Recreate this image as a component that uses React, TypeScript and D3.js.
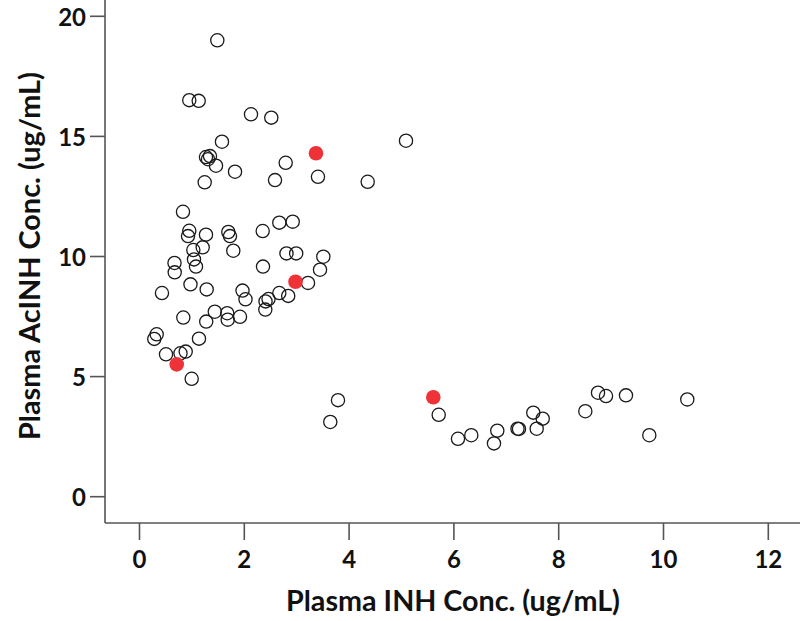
import React from "react";
import * as d3 from "d3";

// Open circles (plasma INH vs AcINH, ug/mL)
const inhOpen: number[] = [
  1.485, 0.95, 1.13, 2.128, 2.515, 1.574, 1.269, 1.307, 1.345, 1.46,
  1.823, 2.79, 3.406, 2.586, 1.244, 4.355, 5.086, 0.83, 0.95, 0.926,
  1.269, 1.695, 1.727, 2.351, 2.668, 2.924, 1.027, 1.206, 1.79, 1.04,
  1.078, 0.668, 0.672, 2.805, 2.99, 3.508, 3.445, 2.357, 3.216, 0.429,
  0.973, 1.282, 1.966, 2.023, 2.668, 2.838, 2.462, 2.405, 2.401, 0.836,
  1.273, 1.437, 1.674, 1.683, 1.918, 1.135, 0.328, 0.282, 0.506, 0.782,
  0.882, 0.996, 3.788, 3.641, 5.71, 6.078, 6.332, 6.828, 6.765, 7.214,
  7.242, 7.515, 7.695, 7.58, 8.508, 8.75, 8.903, 9.284, 10.454, 9.729,
];
const acinhOpen: number[] = [
  19.0, 16.51, 16.48, 15.92, 15.78, 14.78, 14.14, 14.05, 14.18, 13.78,
  13.53, 13.9, 13.32, 13.18, 13.09, 13.11, 14.82, 11.86, 11.07, 10.85,
  10.91, 11.02, 10.85, 11.06, 11.41, 11.45, 10.27, 10.38, 10.24, 9.88,
  9.58, 9.73, 9.34, 10.13, 10.13, 9.99, 9.45, 9.58, 8.9, 8.48,
  8.84, 8.63, 8.58, 8.22, 8.48, 8.36, 8.23, 8.13, 7.79, 7.46,
  7.29, 7.7, 7.64, 7.37, 7.49, 6.58, 6.76, 6.57, 5.93, 5.97,
  6.04, 4.91, 4.02, 3.11, 3.41, 2.41, 2.56, 2.75, 2.22, 2.83,
  2.82, 3.5, 3.25, 2.83, 3.56, 4.33, 4.19, 4.22, 4.05, 2.56,
];

// Highlighted (red filled) points
const inhRed: number[] = [3.368, 2.977, 0.71, 5.607];
const acinhRed: number[] = [14.3, 8.95, 5.51, 4.14];

const xTicks: number[] = [0, 2, 4, 6, 8, 10, 12];
const yTicks: number[] = [0, 5, 10, 15, 20];

const xTitle = "Plasma INH Conc. (ug/mL)";
const yTitle = "Plasma AcINH Conc. (ug/mL)";

const W = 800;
const H = 621;
const FONT = "Lato, 'Liberation Sans', sans-serif";

export default function App() {
  const x = d3.scaleLinear().domain([0, 12]).range([139.5, 768.3]);
  const y = d3.scaleLinear().domain([0, 20]).range([496.7, 16.3]);

  const axisLeft = 105;
  const axisBottom = 523;
  const axisColor = "#555";

  const openPts = inhOpen.map((v, i) => [v, acinhOpen[i]] as [number, number]);
  const redPts = inhRed.map((v, i) => [v, acinhRed[i]] as [number, number]);

  return (
    <svg
      width={W}
      height={H}
      style={{ position: "absolute", left: 0, top: 0, display: "block", background: "#fff" }}
    >
      <rect x={0} y={0} width={W} height={H} fill="#fff" />
      {/* axes lines */}
      <line x1={axisLeft} y1={0} x2={axisLeft} y2={axisBottom} stroke={axisColor} strokeWidth={1.6} />
      <line x1={axisLeft} y1={axisBottom} x2={W} y2={axisBottom} stroke={axisColor} strokeWidth={1.6} />

      {/* x ticks */}
      {xTicks.map((t) => (
        <g key={"xt" + t}>
          <line x1={x(t)} x2={x(t)} y1={axisBottom} y2={axisBottom + 17} stroke={axisColor} strokeWidth={1.6} />
          <text
            x={x(t)}
            y={558}
            textAnchor="middle"
            dominantBaseline="central"
            fontFamily={FONT}
            fontWeight="bold"
            fontSize={24}
            fill="#111"
          >
            {t}
          </text>
        </g>
      ))}

      {/* y ticks */}
      {yTicks.map((t) => (
        <g key={"yt" + t}>
          <line x1={axisLeft - 15} x2={axisLeft} y1={y(t)} y2={y(t)} stroke={axisColor} strokeWidth={1.6} />
          <text
            x={86}
            y={y(t)}
            textAnchor="end"
            dominantBaseline="central"
            fontFamily={FONT}
            fontWeight="bold"
            fontSize={24}
            fill="#111"
          >
            {t}
          </text>
        </g>
      ))}

      {/* axis titles */}
      <text
        x={286}
        y={610.5}
        textLength={334}
        lengthAdjust="spacingAndGlyphs"
        fontFamily={FONT}
        fontWeight="bold"
        fontSize={28}
        fill="#111"
      >
        {xTitle}
      </text>
      <text
        transform={`translate(40, 440) rotate(-90)`}
        x={0}
        y={0}
        textLength={368}
        lengthAdjust="spacingAndGlyphs"
        fontFamily={FONT}
        fontWeight="bold"
        fontSize={28}
        fill="#111"
      >
        {yTitle}
      </text>

      {/* open points */}
      {openPts.map((p, i) => (
        <circle
          key={"o" + i}
          cx={x(p[0])}
          cy={y(p[1])}
          r={6.6}
          fill="none"
          stroke="#1a1a1a"
          strokeWidth={1.3}
        />
      ))}
      {/* red points */}
      {redPts.map((p, i) => (
        <circle key={"r" + i} cx={x(p[0])} cy={y(p[1])} r={7.3} fill="#ee3238" />
      ))}
    </svg>
  );
}
